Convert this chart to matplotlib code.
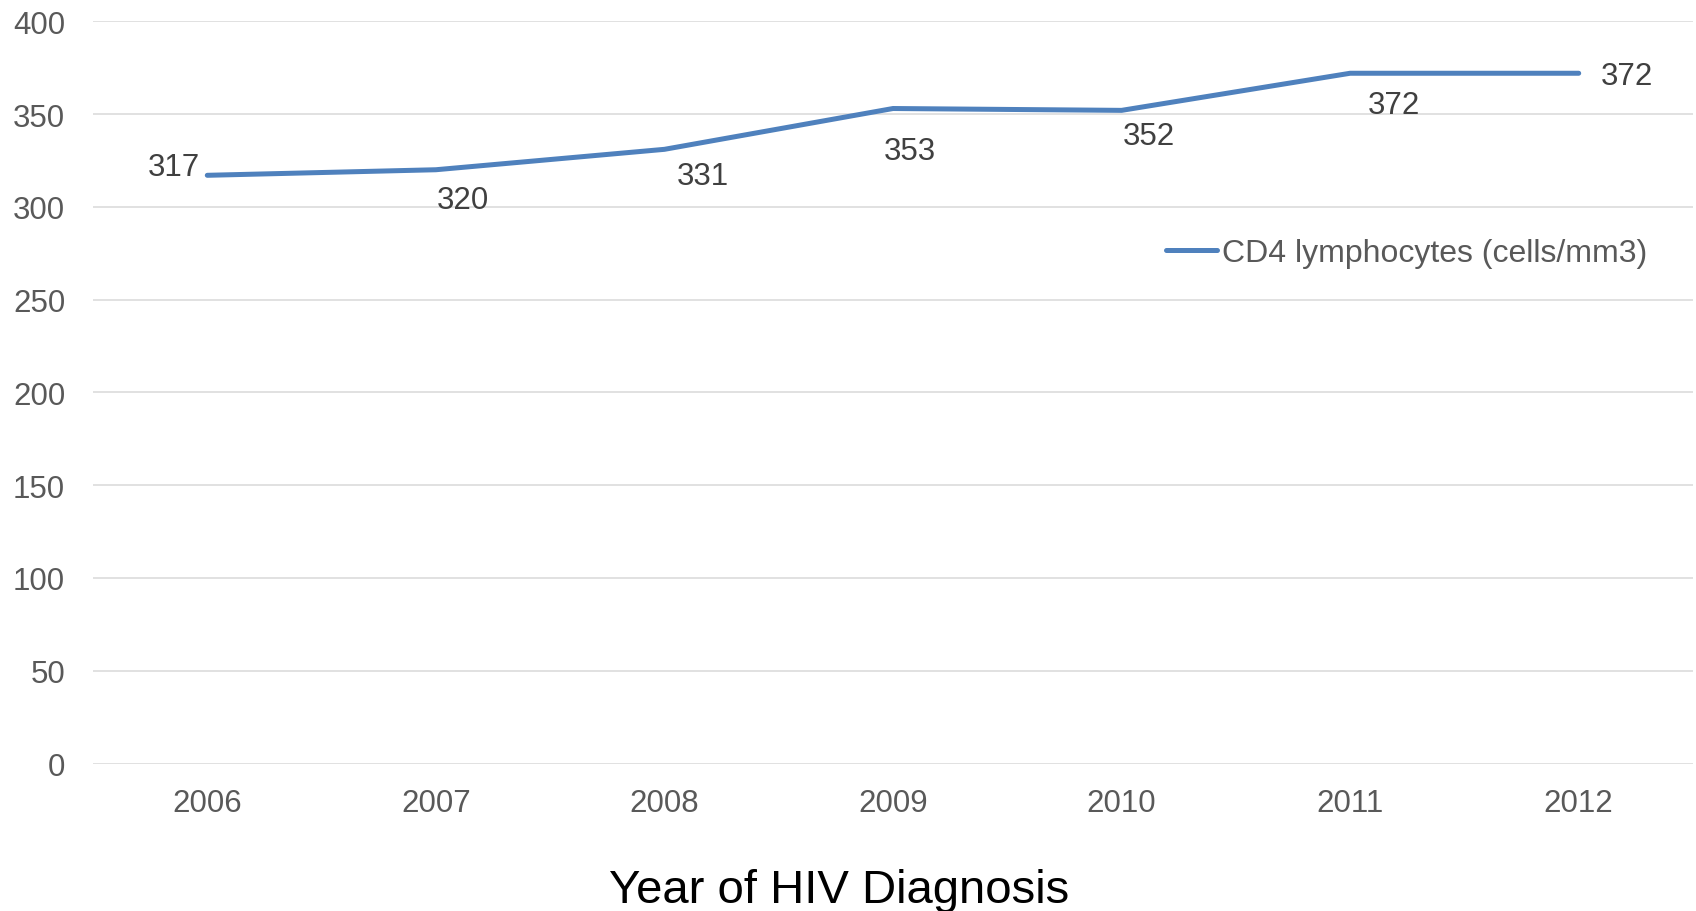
import matplotlib

matplotlib.use("Agg")

import matplotlib.pyplot as plt

years = ["2006", "2007", "2008", "2009", "2010", "2011", "2012"]
cd4 = [317, 320, 331, 353, 352, 372, 372]
series_name = "CD4 lymphocytes (cells/mm3)"
y_ticks = [0, 50, 100, 150, 200, 250, 300, 350, 400]

# label placement (pixel offsets from the point, y down), Excel-like
label_offsets = [(-7, -8), (27, 30), (38, 27), (17, 42), (27, 26), (44, 32), (22, 3)]
label_align = ["right", "center", "center", "center", "center", "center", "left"]

LINE = "#4f81bd"
GRID = "#d9d9d9"
TICK = "#595959"
LABEL = "#404040"

plt.rcParams["font.family"] = ["Liberation Sans", "DejaVu Sans"]

W, H, DPI = 1696, 912, 100
fig = plt.figure(figsize=(W / DPI, H / DPI), dpi=DPI, facecolor="white")
ax = fig.add_axes([93 / W, 1 - 764.5 / H, 1600 / W, (764.5 - 22.3) / H])

x = list(range(len(years)))
ax.plot(x, cd4, color=LINE, linewidth=3.6, solid_capstyle="round",
        label=series_name, zorder=3)

for xi, v, (dx, dy), ha in zip(x, cd4, label_offsets, label_align):
    ax.annotate(str(v), (xi, v), xytext=(dx * 0.72, -dy * 0.72),
                textcoords="offset points", ha=ha, va="center",
                fontsize=22.5, color=LABEL)

ax.set_xlim(-0.5, len(years) - 0.5)
ax.set_ylim(0, 400)
ax.set_xticks(x, years)
ax.set_yticks(y_ticks)
ax.grid(axis="y", color=GRID, linewidth=1.1)
ax.set_axisbelow(True)
for s in ax.spines.values():
    s.set_visible(False)
ax.tick_params(axis="both", length=0, labelsize=22.5, labelcolor=TICK)
ax.tick_params(axis="x", pad=18)
ax.tick_params(axis="y", pad=20)

fig.text(839 / W, 1 - 891 / H, "Year of HIV Diagnosis", ha="center",
         va="center", fontsize=34, color="black")

ax.legend(loc="center left", bbox_to_anchor=(1166 / W, 1 - 254 / H),
          bbox_transform=fig.transFigure, frameon=False, fontsize=23,
          handlelength=1.6, handletextpad=0.16, borderpad=0,
          borderaxespad=0, labelcolor=TICK)

fig.savefig("out.png", dpi=DPI, facecolor="white")
